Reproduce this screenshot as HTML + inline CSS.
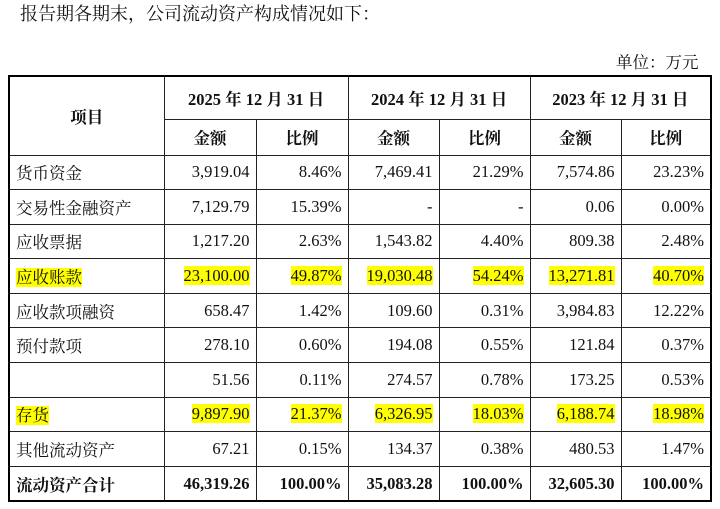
<!DOCTYPE html>
<html><head><meta charset="utf-8"><style>
body{margin:0;width:720px;height:509px;background:#fff;overflow:hidden;font-family:"Liberation Serif","Noto Serif CJK SC",serif;color:#111;position:relative}
.t{position:absolute;font-size:18px;white-space:nowrap}
table{position:absolute;left:8px;top:75px;border-collapse:collapse;border:2.5px solid #000;font-size:16.5px}
td{border:1px solid #222;padding:0 6px;height:33.6px;text-align:right;white-space:nowrap}
td.l{text-align:left}
td.c{text-align:center;font-weight:bold}
.h{background:#ffff00}
tr.b td{font-weight:bold}
</style></head><body>
<div class="t" style="left:20px;top:0px">报告期各期末，公司流动资产构成情况如下：</div>
<div class="t" style="left:616px;top:49px;font-size:16.5px">单位：万元</div>
<table>
<colgroup><col style="width:155px"><col style="width:92px"><col style="width:92px"><col style="width:91px"><col style="width:91px"><col style="width:91px"><col style="width:90px"></colgroup>
<tr style="height:43px"><td class="c" rowspan="2">项目</td><td class="c" colspan="2">2025 年 12 月 31 日</td><td class="c" colspan="2">2024 年 12 月 31 日</td><td class="c" colspan="2">2023 年 12 月 31 日</td></tr>
<tr style="height:36px"><td class="c">金额</td><td class="c">比例</td><td class="c">金额</td><td class="c">比例</td><td class="c">金额</td><td class="c">比例</td></tr>
<tr><td class="l">货币资金</td><td>3,919.04</td><td>8.46%</td><td>7,469.41</td><td>21.29%</td><td>7,574.86</td><td>23.23%</td></tr>
<tr><td class="l">交易性金融资产</td><td>7,129.79</td><td>15.39%</td><td>-</td><td>-</td><td>0.06</td><td>0.00%</td></tr>
<tr><td class="l">应收票据</td><td>1,217.20</td><td>2.63%</td><td>1,543.82</td><td>4.40%</td><td>809.38</td><td>2.48%</td></tr>
<tr><td class="l"><span class="h">应收账款</span></td><td><span class="h">23,100.00</span></td><td><span class="h">49.87%</span></td><td><span class="h">19,030.48</span></td><td><span class="h">54.24%</span></td><td><span class="h">13,271.81</span></td><td><span class="h">40.70%</span></td></tr>
<tr><td class="l">应收款项融资</td><td>658.47</td><td>1.42%</td><td>109.60</td><td>0.31%</td><td>3,984.83</td><td>12.22%</td></tr>
<tr><td class="l">预付款项</td><td>278.10</td><td>0.60%</td><td>194.08</td><td>0.55%</td><td>121.84</td><td>0.37%</td></tr>
<tr><td class="l"></td><td>51.56</td><td>0.11%</td><td>274.57</td><td>0.78%</td><td>173.25</td><td>0.53%</td></tr>
<tr><td class="l"><span class="h">存货</span></td><td><span class="h">9,897.90</span></td><td><span class="h">21.37%</span></td><td><span class="h">6,326.95</span></td><td><span class="h">18.03%</span></td><td><span class="h">6,188.74</span></td><td><span class="h">18.98%</span></td></tr>
<tr><td class="l">其他流动资产</td><td>67.21</td><td>0.15%</td><td>134.37</td><td>0.38%</td><td>480.53</td><td>1.47%</td></tr>
<tr class="b"><td class="l">流动资产合计</td><td>46,319.26</td><td>100.00%</td><td>35,083.28</td><td>100.00%</td><td>32,605.30</td><td>100.00%</td></tr>
</table>
</body></html>
